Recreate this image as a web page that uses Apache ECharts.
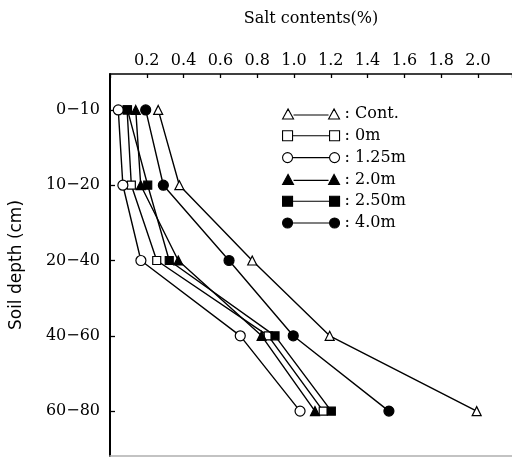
<!DOCTYPE html>
<html>
<head>
<meta charset="utf-8">
<script src="https://cdn.jsdelivr.net/npm/echarts@6/dist/echarts.min.js"></script>
<style>html,body{margin:0;padding:0;background:#fff;}#c{width:512px;height:459px;}</style>
</head>
<body>
<div id="c"></div>
<script>
// Data
var depthLabels = ['0\u221210', '10\u221220', '20\u221240', '40\u221260', '60\u221280'];
var seriesNames = ['Cont.', '0m', '1.25m', '2.0m', '2.50m', '4.0m'];
var contValues = [0.262, 0.377, 0.773, 1.194, 1.993];
var m0Values   = [0.093, 0.116, 0.254, 0.860, 1.159];
var m125Values = [0.045, 0.070, 0.168, 0.708, 1.033];
var m20Values  = [0.140, 0.167, 0.371, 0.824, 1.114];
var m250Values = [0.095, 0.205, 0.322, 0.897, 1.203];
var m40Values  = [0.194, 0.290, 0.647, 0.996, 1.516];
var xTickLabels = ['0.2', '0.4', '0.6', '0.8', '1.0', '1.2', '1.4', '1.6', '1.8', '2.0'];

var allValues = [contValues, m0Values, m125Values, m20Values, m250Values, m40Values];
var symbols = ['triangle', 'rect', 'circle', 'triangle', 'rect', 'circle'];
var symbolSizes = [9, 8, 10, 9, 8, 10];
var filled = [false, false, false, true, true, true];

var triPath = 'path://M0,11L5.5,1L11,11Z M11,7H46 M46,11L51.5,1L57,11Z';
var rectPath = 'path://M0,1H10V11H0Z M10,6H47 M47,1H57V11H47Z';
var circPath = 'path://M0,6A5,5,0,1,1,10,6A5,5,0,1,1,0,6Z M10,6H47 M47,6A5,5,0,1,1,57,6A5,5,0,1,1,47,6Z';
var legendIcons = [triPath, rectPath, circPath, triPath, rectPath, circPath];

var serif = 'DejaVu Serif';

var series = seriesNames.map(function (name, i) {
  return {
    name: name,
    type: 'line',
    xAxisIndex: 0,
    data: allValues[i].map(function (v, j) { return [v, j]; }),
    symbol: symbols[i],
    symbolSize: symbolSizes[i],
    showAllSymbol: true,
    lineStyle: { color: '#000', width: 1.4 },
    itemStyle: { color: filled[i] ? '#000' : '#fff', borderColor: '#000', borderWidth: 1.2, opacity: 1 },
    emphasis: { disabled: true },
    z: filled[i] ? 3 : 2,
    animation: false
  };
});

var chart = echarts.init(document.getElementById('c'), null, { renderer: 'canvas' });
chart.setOption({
  backgroundColor: '#fff',
  animation: false,
  grid: { left: 110, right: 0, top: 74, bottom: 3, containLabel: false, outerBoundsMode: 'none' },
  legend: {
    orient: 'vertical',
    left: 277,
    top: 101,
    itemWidth: 57,
    itemHeight: 12,
    itemGap: 5.8,
    selectedMode: false,
    textStyle: { fontFamily: serif, fontSize: 16, color: '#000' },
    formatter: function (n) { return ': ' + n; },
    data: seriesNames.map(function (n, i) {
      return {
        name: n,
        icon: legendIcons[i],
        itemStyle: { color: filled[i] ? '#000' : '#fff', borderColor: '#000', borderWidth: 1.1 }
      };
    })
  },
  xAxis: [{
    type: 'value',
    position: 'top',
    min: 0,
    max: 2.185,
    interval: 0.2,
    name: 'Salt contents(%)',
    nameLocation: 'middle',
    nameGap: 47,
    nameTextStyle: { fontFamily: serif, fontSize: 16, color: '#000' },
    axisLine: { show: true, onZero: false, lineStyle: { color: '#000', width: 1.6 } },
    axisTick: { show: true, inside: true, length: 4, lineStyle: { color: '#000', width: 1.3 } },
    axisLabel: {
      margin: 5,
      fontFamily: serif, fontSize: 16, color: '#000',
      formatter: function (v) {
        var idx = Math.round(v / 0.2) - 1;
        return idx >= 0 && idx < xTickLabels.length ? xTickLabels[idx] : '';
      }
    },
    splitLine: { show: false }
  }, {
    type: 'value',
    position: 'bottom',
    min: 0,
    max: 2.185,
    axisLine: { show: true, onZero: false, lineStyle: { color: '#b0b0b0', width: 1.5 } },
    axisTick: { show: false },
    axisLabel: { show: false },
    splitLine: { show: false }
  }],
  yAxis: {
    type: 'value',
    inverse: true,
    min: -0.477,
    max: 4.596,
    name: 'Soil depth (cm)',
    nameLocation: 'middle',
    nameRotate: 90,
    nameGap: 85,
    nameTextStyle: { fontFamily: 'DejaVu Sans', fontSize: 17, color: '#000' },
    axisLine: { show: true, onZero: false, lineStyle: { color: '#000', width: 2 } },
    axisTick: { show: true, inside: true, length: 5, customValues: [0, 1, 2, 3, 4], lineStyle: { color: '#000', width: 1.3 } },
    axisLabel: {
      customValues: [0, 1, 2, 3, 4],
      margin: 10,
      fontFamily: serif, fontSize: 16, color: '#000',
      formatter: function (v) { return depthLabels[Math.round(v)] || ''; }
    },
    splitLine: { show: false }
  },
  series: series
});
</script>
</body>
</html>
